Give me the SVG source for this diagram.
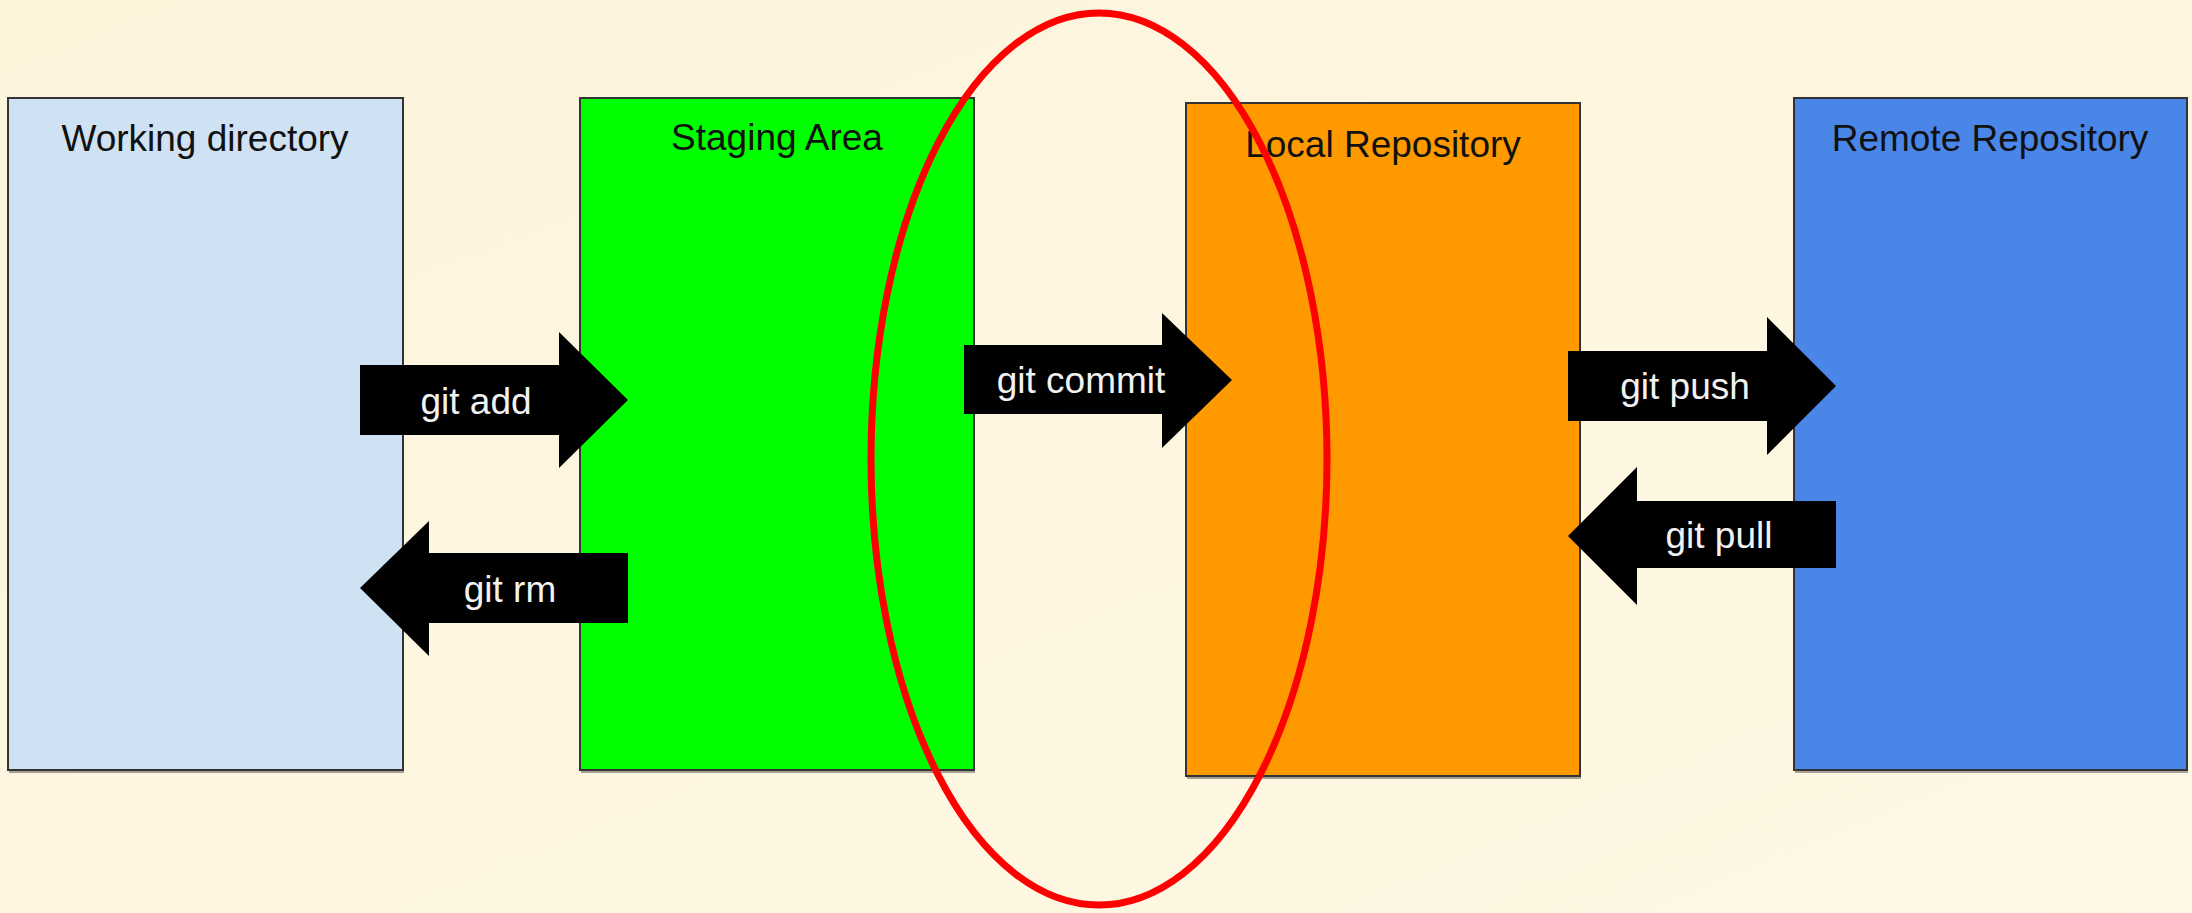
<svg xmlns="http://www.w3.org/2000/svg" width="2192" height="913" viewBox="0 0 2192 913">
  <defs>
    <linearGradient id="bg" x1="0" y1="0" x2="1" y2="1">
      <stop offset="0" stop-color="#fdf4dc"/>
      <stop offset="1" stop-color="#fef8e4"/>
    </linearGradient>
    <style>
      .box { stroke: #333333; stroke-width: 2; }
      .shadow { fill: #000000; opacity: 0.35; }
      .title { font-family: "Liberation Sans", Arial, sans-serif; font-size: 37px; fill: #111111; text-anchor: middle; }
      .arrow { fill: #000000; }
      .lbl { font-family: "Liberation Sans", Arial, sans-serif; font-size: 37px; fill: #f2f2f2; text-anchor: middle; }
      .hl { fill: none; stroke: #ff0000; stroke-width: 7; }
    </style>
  </defs>
  <rect x="0" y="0" width="2192" height="913" fill="url(#bg)"/>

  <g id="working-directory">
    <rect class="shadow" x="9" y="101" width="395" height="672"/>
    <rect class="box" x="8" y="98" width="395" height="672" fill="#cfe2f3"/>
    <text class="title" x="205" y="151">Working directory</text>
  </g>
  <g id="staging-area">
    <rect class="shadow" x="581" y="101" width="394" height="672"/>
    <rect class="box" x="580" y="98" width="394" height="672" fill="#00ff00"/>
    <text class="title" x="777" y="150">Staging Area</text>
  </g>
  <g id="local-repository">
    <rect class="shadow" x="1187" y="106" width="394" height="673"/>
    <rect class="box" x="1186" y="103" width="394" height="673" fill="#ff9900"/>
    <text class="title" x="1383" y="157">Local Repository</text>
  </g>
  <g id="remote-repository">
    <rect class="shadow" x="1795" y="101" width="393" height="672"/>
    <rect class="box" x="1794" y="98" width="393" height="672" fill="#4a86e8"/>
    <text class="title" x="1990" y="151">Remote Repository</text>
  </g>

  <g id="connectors">
    <g id="git-add">
      <polygon class="arrow" points="360,365 559,365 559,332 628,400 559,468 559,435 360,435"/>
      <text class="lbl" x="476" y="414">git add</text>
    </g>
    <g id="git-rm">
      <polygon class="arrow" points="628,553 429,553 429,521 360,588 429,656 429,623 628,623"/>
      <text class="lbl" x="510" y="602">git rm</text>
    </g>
    <g id="git-commit">
      <polygon class="arrow" points="964,345 1162,345 1162,313 1232,380 1162,448 1162,414 964,414"/>
      <text class="lbl" x="1081" y="393">git commit</text>
    </g>
    <g id="git-push">
      <polygon class="arrow" points="1568,351 1767,351 1767,317 1836,386 1767,455 1767,421 1568,421"/>
      <text class="lbl" x="1685" y="399">git push</text>
    </g>
    <g id="git-pull">
      <polygon class="arrow" points="1836,501 1637,501 1637,467 1568,536 1637,605 1637,568 1836,568"/>
      <text class="lbl" x="1719" y="548">git pull</text>
    </g>
  </g>

  <g id="highlight">
    <ellipse class="hl" cx="1099" cy="459" rx="228" ry="446"/>
  </g>
</svg>
